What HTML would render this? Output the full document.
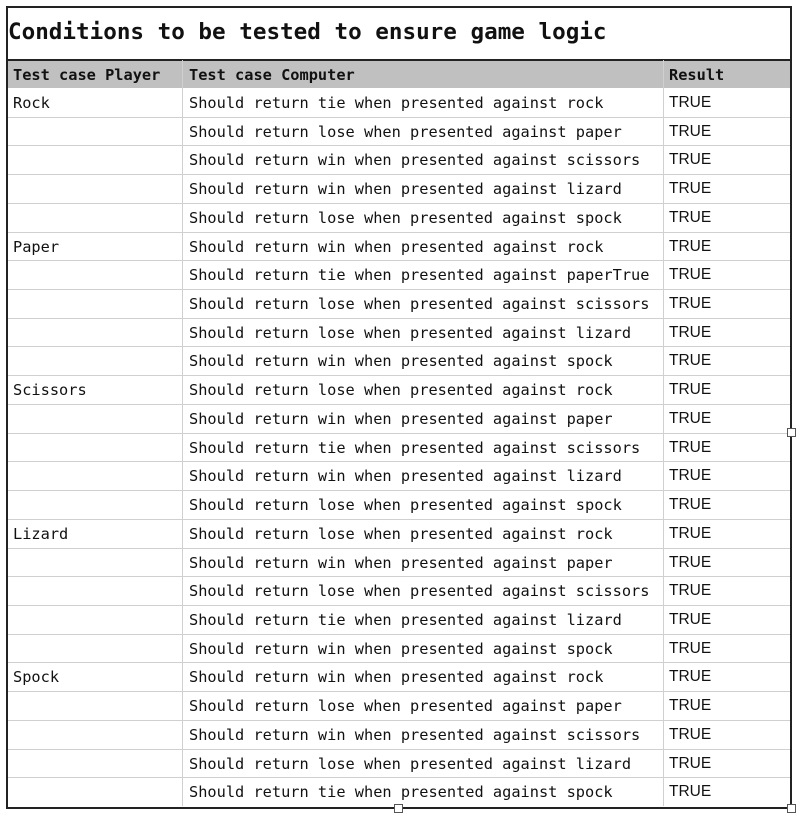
<!DOCTYPE html>
<html><head><meta charset="utf-8"><style>
body{margin:0;width:800px;height:815px;background:#fff;position:relative;overflow:hidden}
.frame{position:absolute;left:6px;top:6px;width:782px;height:799px;border:2px solid #222;box-sizing:content-box}
.title{position:absolute;left:8px;top:19px;font:bold 22.6px "DejaVu Sans Mono","Liberation Mono",monospace;color:#111}
.hdr{position:absolute;left:7px;top:59px;width:783px;height:29px;background:#c0c0c0;border-top:2px solid #222;box-sizing:border-box}
.row{position:absolute;left:7px;width:783px;border-top:1px solid #d0d0d0}
.t{position:absolute;font:15.3px "DejaVu Sans Mono","Liberation Mono",monospace;color:#111;white-space:pre}
.b{font-weight:bold}
.r{position:absolute;font:15.5px "Liberation Sans",sans-serif;color:#111}
.vl{position:absolute;width:1px;background:#d0d0d0;top:60px;height:746px}
.h{position:absolute;width:7px;height:7px;border:1px solid #555;background:#fff}
</style></head><body>
<div class="hdr"></div>
<div class="vl" style="left:182px"></div>
<div class="vl" style="left:663px"></div>
<div class="title">Conditions to be tested to ensure game logic</div>
<div class="t b" style="left:13px;top:66px">Test case Player</div>
<div class="t b" style="left:189px;top:66px">Test case Computer</div>
<div class="t b" style="left:669px;top:66px">Result</div>
<div id="rows"></div>
<div class="frame"></div>
<div class="h" style="left:787px;top:428px"></div>
<div class="h" style="left:394px;top:804px"></div>
<div class="h" style="left:787px;top:804px"></div>
<script>
var d=[["Rock","tie","rock"],["","lose","paper"],["","win","scissors"],["","win","lizard"],["","lose","spock"],
["Paper","win","rock"],["","tie","paperTrue"],["","lose","scissors"],["","lose","lizard"],["","win","spock"],
["Scissors","lose","rock"],["","win","paper"],["","tie","scissors"],["","win","lizard"],["","lose","spock"],
["Lizard","lose","rock"],["","win","paper"],["","lose","scissors"],["","tie","lizard"],["","win","spock"],
["Spock","win","rock"],["","lose","paper"],["","win","scissors"],["","lose","lizard"],["","tie","spock"]];
var h="";
for(var i=0;i<d.length;i++){var y=88+i*28.72;
if(i>0)h+='<div class="row" style="top:'+y+'px"></div>';
h+='<div class="t" style="left:13px;top:'+(y+6)+'px">'+d[i][0]+'</div>';
h+='<div class="t" style="left:189px;top:'+(y+6)+'px">Should return '+d[i][1]+' when presented against '+d[i][2]+'</div>';
h+='<div class="r" style="left:669px;top:'+(y+6)+'px">TRUE</div>';}
document.getElementById("rows").innerHTML=h;
</script>
</body></html>
